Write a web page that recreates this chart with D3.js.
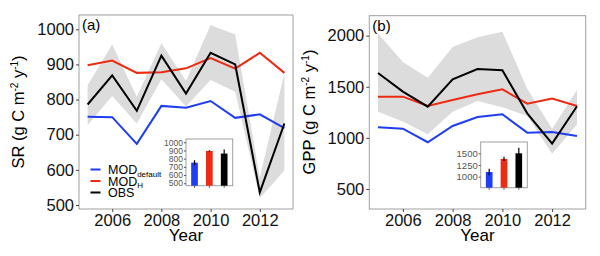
<!DOCTYPE html>
<html>
<head>
<meta charset="utf-8">
<script src="https://cdn.jsdelivr.net/npm/d3@7"></script>
<style>
  body { margin: 0; background: #fff; }
  svg { font-family: "Liberation Sans", Arial, sans-serif; }
</style>
</head>
<body>
<svg id="chart" width="600" height="256"></svg>
<script>
const years = [2005, 2006, 2007, 2008, 2009, 2010, 2011, 2012, 2013];
const yearTicks = [2006, 2008, 2010, 2012];

// panel (a) SR
const srDefault = [751, 750, 674, 782, 777, 796, 748, 758, 719];
const srH = [898, 911, 876, 878, 889, 918, 888, 933, 876];
const srObs = [786, 869, 768, 925, 817, 933, 900, 536, 732];
const srBandLow = [727, 810, 732, 858, 780, 856, 822, 519, 598];
const srBandHigh = [841, 957, 808, 960, 853, 1012, 985, 578, 875];
const srTicks = [500, 600, 700, 800, 900, 1000];
const srBars = [751, 894, 862];
const srErr = [30, 9, 50];
const srBarTicks = [500, 600, 700, 800, 900, 1000];

// panel (b) GPP
const gppDefault = [1103, 1090, 957, 1116, 1204, 1231, 1051, 1058, 1019];
const gppH = [1403, 1403, 1312, 1371, 1426, 1475, 1335, 1384, 1312];
const gppObs = [1635, 1452, 1305, 1573, 1674, 1661, 1240, 944, 1309];
const gppBandLow = [1256, 1160, 1035, 1256, 1360, 1300, 1215, 845, 1130];
const gppBandHigh = [2020, 1742, 1588, 1890, 1985, 2039, 1480, 1090, 1469];
const gppTicks = [500, 1000, 1500, 2000];
const gppBars = [1100, 1380, 1500];
const gppErr = [70, 45, 120];
const gppBarTicks = [1000, 1250, 1500];

const models = ["default", "H", "OBS"];
const colors = ["#1f3df5", "#ee2a12", "#000000"];

const svg = d3.select("#chart");

function panel(opt) {
  const g = svg.append("g");
  const x = d3.scaleLinear().domain([2004.65, 2013.35]).range([opt.left, opt.right]);
  const y = d3.scaleLinear().domain(opt.yDomain).range([209, opt.top]);

  // grey band
  const area = d3.area()
    .x((d, i) => x(years[i]))
    .y0((d) => y(d[0]))
    .y1((d) => y(d[1]));
  g.append("path")
    .datum(opt.low.map((v, i) => [v, opt.high[i]]))
    .attr("fill", "#dcdcdc")
    .attr("d", area);

  const line = d3.line().x((d, i) => x(years[i])).y((d) => y(d));
  [opt.def, opt.h, opt.obs].forEach((s, i) => {
    g.append("path")
      .datum(s)
      .attr("fill", "none")
      .attr("stroke", colors[i])
      .attr("stroke-width", 2)
      .attr("d", line);
  });

  // frame
  g.append("rect")
    .attr("x", opt.left).attr("y", opt.top)
    .attr("width", opt.right - opt.left).attr("height", 209 - opt.top)
    .attr("fill", "none").attr("stroke", "#a0a0a0").attr("stroke-width", 1);

  // axes
  const xa = g.append("g").attr("transform", "translate(0,209)")
    .call(d3.axisBottom(x).tickValues(yearTicks).tickFormat(d3.format("d")).tickSize(3).tickPadding(2));
  const ya = g.append("g").attr("transform", `translate(${opt.left},0)`)
    .call(d3.axisLeft(y).tickValues(opt.ticks).tickFormat(d3.format("d")).tickSize(3).tickPadding(2));
  [xa, ya].forEach((a) => {
    a.select(".domain").remove();
    a.selectAll("line").attr("stroke", "#444");
    a.selectAll("text").attr("fill", "#111").style("font-size", "16.5px");
  });

  g.append("text")
    .attr("x", (opt.left + opt.right) / 2).attr("y", 241)
    .attr("text-anchor", "middle").style("font-size", "17px")
    .text("Year");

  const t = g.append("text")
    .attr("transform", `translate(${opt.titleX},112) rotate(-90)`)
    .attr("text-anchor", "middle").style("font-size", "16.5px");
  t.append("tspan").text(opt.label + " (g C m");
  t.append("tspan").attr("dy", -6).style("font-size", "10px").text("-2");
  t.append("tspan").attr("dy", 6).text(" y");
  t.append("tspan").attr("dy", -6).style("font-size", "10px").text("-1");
  t.append("tspan").attr("dy", 6).text(")");

  g.append("text")
    .attr("x", opt.left + 3).attr("y", opt.top + 15)
    .style("font-size", "15px").text(opt.tag);

  // inset bar chart
  const ib = opt.inset;
  const ig = g.append("g");
  const bx = d3.scaleBand().domain(models).range([ib.x0, ib.x1]).paddingInner(0.55).paddingOuter(0.35);
  const by = d3.scaleLinear().domain(ib.domain).range([ib.y1, ib.y0]);
  ig.append("rect")
    .attr("x", ib.x0).attr("y", ib.y0)
    .attr("width", ib.x1 - ib.x0).attr("height", ib.y1 - ib.y0)
    .attr("fill", "#fff").attr("stroke", "#a0a0a0");
  ig.selectAll(".bar").data(opt.bars).join("rect")
    .attr("x", (d, i) => bx(models[i]))
    .attr("y", (d) => by(d))
    .attr("width", bx.bandwidth())
    .attr("height", (d) => ib.y1 - by(d))
    .attr("fill", (d, i) => colors[i]);
  ig.selectAll(".err").data(opt.bars).join("line")
    .attr("x1", (d, i) => bx(models[i]) + bx.bandwidth() / 2)
    .attr("x2", (d, i) => bx(models[i]) + bx.bandwidth() / 2)
    .attr("y1", (d, i) => by(d - opt.err[i]))
    .attr("y2", (d, i) => by(d + opt.err[i]))
    .attr("stroke", "#000").attr("stroke-width", 1.2);
  const iya = ig.append("g").attr("transform", `translate(${ib.x0},0)`)
    .call(d3.axisLeft(by).tickValues(ib.ticks).tickFormat(d3.format("d")).tickSize(2).tickPadding(1));
  const ixa = ig.append("g").attr("transform", `translate(0,${ib.y1})`)
    .call(d3.axisBottom(bx).tickSize(2).tickFormat(""));
  [iya, ixa].forEach((a) => {
    a.select(".domain").remove();
    a.selectAll("line").attr("stroke", "#555");
    a.selectAll("text").attr("fill", "#555").style("font-size", ib.font);
  });
}

panel({
  left: 79, right: 293, top: 15, yDomain: [488.6, 1040.7], ticks: srTicks,
  def: srDefault, h: srH, obs: srObs, low: srBandLow, high: srBandHigh,
  label: "SR", tag: "(a)", titleX: 24,
  bars: srBars, err: srErr,
  inset: { x0: 186, x1: 232.7, y0: 139, y1: 185.7, domain: [470, 1040], ticks: srBarTicks, font: "8.5px" }
});

panel({
  left: 369.3, right: 585.7, top: 15.7, yDomain: [304, 2195], ticks: gppTicks,
  def: gppDefault, h: gppH, obs: gppObs, low: gppBandLow, high: gppBandHigh,
  label: "GPP", tag: "(b)", titleX: 315,
  bars: gppBars, err: gppErr,
  inset: { x0: 480.7, x1: 527.3, y0: 142, y1: 187.7, domain: [764, 1742], ticks: gppBarTicks, font: "9.5px" }
});

// legend in panel (a)
const names = [["MOD", "default"], ["MOD", "H"], ["OBS", ""]];
const ly = d3.scalePoint().domain(models).range([169.5, 192.5]);
const leg = svg.append("g");
leg.selectAll("line").data(models).join("line")
  .attr("x1", 90.5).attr("x2", 100.5)
  .attr("y1", (d) => ly(d)).attr("y2", (d) => ly(d))
  .attr("stroke", (d, i) => colors[i]).attr("stroke-width", 2);
leg.selectAll("text").data(names).join("text")
  .attr("x", 108).attr("y", (d, i) => ly(models[i]) + 4.5)
  .style("font-size", "12.5px")
  .each(function (d) {
    const t = d3.select(this);
    t.append("tspan").text(d[0]);
    if (d[1]) t.append("tspan").attr("dy", 2.5).style("font-size", "8px").text(d[1]);
  });
</script>
</body>
</html>
